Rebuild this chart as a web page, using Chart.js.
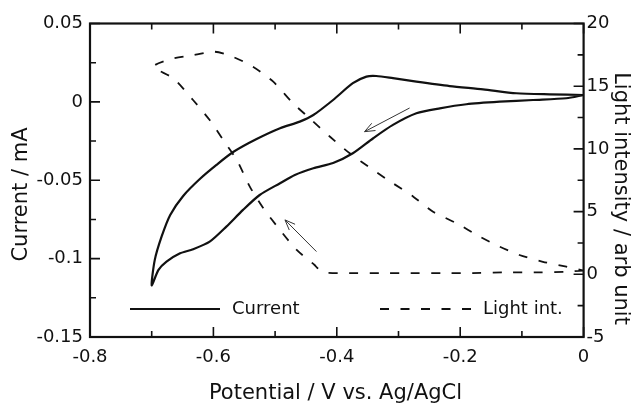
<!DOCTYPE html>
<html><head><meta charset="utf-8">
<script src="https://cdn.jsdelivr.net/npm/chart.js@4.4.1/dist/chart.umd.min.js"></script>
<style>html,body{margin:0;padding:0;background:#fff;}canvas{display:block;}</style>
</head><body>
<canvas id="c" width="637" height="404"></canvas>
<script>
// ---- data ----
const currentX = [0.000,-0.028,-0.082,-0.136,-0.190,-0.233,-0.271,-0.309,-0.341,-0.374,-0.406,-0.438,-0.468,-0.492,-0.525,-0.552,-0.579,-0.606,-0.633,-0.654,-0.676,-0.689,-0.700,
                  -0.695,-0.684,-0.670,-0.649,-0.622,-0.595,-0.568,-0.530,-0.492,-0.460,-0.438,-0.406,-0.374,-0.352,-0.336,-0.309,-0.271,-0.217,-0.163,-0.109,-0.055,0.000];
const currentY = [0.0044,0.0023,0.0012,0.0001,-0.0015,-0.0041,-0.0073,-0.0147,-0.0232,-0.0328,-0.0390,-0.0423,-0.0466,-0.0519,-0.0594,-0.0689,-0.0796,-0.0892,-0.0940,-0.0966,-0.1019,-0.1072,-0.1170,
                  -0.1008,-0.0860,-0.0721,-0.0600,-0.0492,-0.0402,-0.0320,-0.0237,-0.0168,-0.0126,-0.0084,0.0012,0.0119,0.0161,0.0165,0.0151,0.0129,0.0101,0.0080,0.0055,0.0048,0.0044];
const lightX = [0.000,-0.030,-0.080,-0.130,-0.180,-0.230,-0.280,-0.330,-0.380,-0.420,-0.431,-0.436,-0.465,-0.492,-0.519,-0.541,-0.562,-0.584,-0.606,-0.633,-0.665,-0.697,
                -0.670,-0.636,-0.598,-0.568,-0.536,-0.503,-0.471,-0.444,-0.411,-0.379,-0.341,-0.309,-0.276,-0.244,-0.206,-0.168,-0.136,-0.104,-0.066,-0.028,0.000];
const lightY = [0.30,0.20,0.15,0.15,0.10,0.10,0.10,0.10,0.10,0.15,0.48,0.74,1.94,3.53,5.26,6.99,9.11,10.71,12.30,13.90,15.63,16.56,
                17.15,17.45,17.75,17.33,16.56,15.36,13.64,12.44,10.97,9.65,8.32,7.26,6.19,4.99,4.07,3.00,2.20,1.54,1.00,0.61,0.30];
const seriesNames = ['Current', 'Light int.'];
const xTicks = [-0.8, -0.6, -0.4, -0.2, 0];
const xTickLabels = ['-0.8', '-0.6', '-0.4', '-0.2', '0'];
const xMinor = [-0.7, -0.5, -0.3, -0.1];
const yTicks = [-0.15, -0.1, -0.05, 0, 0.05];
const yTickLabels = ['-0.15', '-0.1', '-0.05', '0', '0.05'];
const yMinor = [-0.125, -0.075, -0.025, 0.025];
const y2Ticks = [-5, 0, 5, 10, 15, 20];
const y2TickLabels = ['-5', '0', '5', '10', '15', '20'];
const y2Minor = [-2.5, 2.5, 7.5, 12.5, 17.5];
const xTitle = 'Potential / V vs. Ag/AgCl';
const yTitle = 'Current / mA';
const y2Title = 'Light intensity / arb unit';
// scan-direction arrows (in potential / current units)
const arrowTailX = [-0.282, -0.433];
const arrowTailY = [-0.0039, -0.0955];
const arrowHeadX = [-0.355, -0.484];
const arrowHeadY = [-0.0190, -0.0753];

// ---- chart ----
const FONT = 'DejaVu Sans';
const INK = '#111';
function lbl(vals, labels) {
  return v => { const i = vals.findIndex(t => Math.abs(t - v) < 1e-9); return i >= 0 ? labels[i] : ''; };
}
function fixedTicks(vals) { return s => { s.ticks = vals.map(v => ({ value: v })); }; }

const decor = {
  id: 'decor',
  afterDatasetsDraw(chart) {
    const { ctx, chartArea: a, scales } = chart;
    const sx = scales.x, sy = scales.y, sy2 = scales.y2;
    ctx.save();
    ctx.strokeStyle = INK;
    // ticks
    const MAJ = 10, MIN = 6;
    ctx.lineWidth = 1.6;
    ctx.beginPath();
    const xt = (v, len) => { const p = sx.getPixelForValue(v); ctx.moveTo(p, a.bottom); ctx.lineTo(p, a.bottom - len); ctx.moveTo(p, a.top); ctx.lineTo(p, a.top + len); };
    xTicks.forEach(v => xt(v, MAJ)); xMinor.forEach(v => xt(v, MIN));
    const yt = (v, len) => { const p = sy.getPixelForValue(v); ctx.moveTo(a.left, p); ctx.lineTo(a.left + len, p); };
    yTicks.forEach(v => yt(v, MAJ)); yMinor.forEach(v => yt(v, MIN));
    const y2t = (v, len) => { const p = sy2.getPixelForValue(v); ctx.moveTo(a.right, p); ctx.lineTo(a.right - len, p); };
    y2Ticks.forEach(v => y2t(v, MAJ)); y2Minor.forEach(v => y2t(v, MIN));
    ctx.stroke();
    // frame
    ctx.lineWidth = 2.2;
    ctx.strokeRect(a.left, a.top, a.right - a.left, a.bottom - a.top);
    // arrows
    ctx.strokeStyle = '#333';
    ctx.lineWidth = 1;
    for (let i = 0; i < arrowTailX.length; i++) {
      const x0 = sx.getPixelForValue(arrowTailX[i]), y0 = sy.getPixelForValue(arrowTailY[i]);
      const x1 = sx.getPixelForValue(arrowHeadX[i]), y1 = sy.getPixelForValue(arrowHeadY[i]);
      const ang = Math.atan2(y1 - y0, x1 - x0), L = 11, w = 0.38;
      ctx.beginPath();
      ctx.moveTo(x0, y0); ctx.lineTo(x1, y1);
      ctx.moveTo(x1 - L * Math.cos(ang - w), y1 - L * Math.sin(ang - w));
      ctx.lineTo(x1, y1);
      ctx.lineTo(x1 - L * Math.cos(ang + w), y1 - L * Math.sin(ang + w));
      ctx.stroke();
    }
    // legend
    ctx.strokeStyle = INK;
    ctx.fillStyle = INK;
    ctx.font = '18px "' + FONT + '"';
    ctx.textBaseline = 'middle';
    ctx.textAlign = 'left';
    const ly = 309;
    ctx.lineWidth = 2;
    ctx.beginPath(); ctx.moveTo(130, ly); ctx.lineTo(220, ly); ctx.stroke();
    ctx.fillText(seriesNames[0], 232, ly);
    ctx.lineWidth = 1.8;
    ctx.setLineDash([9, 11.5]);
    ctx.beginPath(); ctx.moveTo(380, ly); ctx.lineTo(472, ly); ctx.stroke();
    ctx.setLineDash([]);
    ctx.fillText(seriesNames[1], 483, ly);
    // axis titles
    ctx.font = '21px "' + FONT + '"';
    ctx.textBaseline = 'alphabetic';
    ctx.textAlign = 'center';
    ctx.fillText(xTitle, 335.5, 399);
    ctx.save(); ctx.translate(26.5, 194.5); ctx.rotate(-Math.PI / 2); ctx.fillText(yTitle, 0, 0); ctx.restore();
    ctx.save(); ctx.translate(615, 198.5); ctx.rotate(Math.PI / 2); ctx.fillText(y2Title, 0, 0); ctx.restore();
    ctx.restore();
  }
};

const tickFont = { family: FONT, size: 18 };
new Chart(document.getElementById('c'), {
  type: 'scatter',
  data: {
    datasets: [
      { label: seriesNames[0], data: currentX.map((x, i) => ({ x, y: currentY[i] })), xAxisID: 'x', yAxisID: 'y',
        showLine: true, borderColor: INK, borderWidth: 2.2, pointRadius: 0, tension: 0.25, fill: false },
      { label: seriesNames[1], data: lightX.map((x, i) => ({ x, y: lightY[i] })), xAxisID: 'x', yAxisID: 'y2',
        showLine: true, borderColor: INK, borderWidth: 1.8, borderDash: [9, 11.5], pointRadius: 0, tension: 0.25, fill: false }
    ]
  },
  options: {
    responsive: false, animation: false, devicePixelRatio: 1,
    layout: { padding: { top: 23.5, left: 0, right: 0, bottom: 0 } },
    plugins: { legend: { display: false }, tooltip: { enabled: false } },
    scales: {
      x: { type: 'linear', position: 'bottom', min: -0.8, max: 0,
        afterBuildTicks: fixedTicks(xTicks),
        ticks: { callback: lbl(xTicks, xTickLabels), font: tickFont, color: INK, padding: 10, maxRotation: 0, autoSkip: false },
        grid: { display: false, drawTicks: false }, border: { display: false },
        afterFit: s => { s.height = 67; } },
      y: { type: 'linear', position: 'left', min: -0.15, max: 0.05,
        afterBuildTicks: fixedTicks(yTicks),
        ticks: { callback: lbl(yTicks, yTickLabels), font: tickFont, color: INK, padding: 7, autoSkip: false },
        grid: { display: false, drawTicks: false }, border: { display: false },
        afterFit: s => { s.width = 90; } },
      y2: { type: 'linear', position: 'right', min: -5, max: 20,
        afterBuildTicks: fixedTicks(y2Ticks),
        ticks: { callback: lbl(y2Ticks, y2TickLabels), font: tickFont, color: INK, padding: 3, autoSkip: false },
        grid: { display: false, drawTicks: false }, border: { display: false },
        afterFit: s => { s.width = 53.4; } }
    }
  },
  plugins: [decor]
});
</script>
</body></html>
